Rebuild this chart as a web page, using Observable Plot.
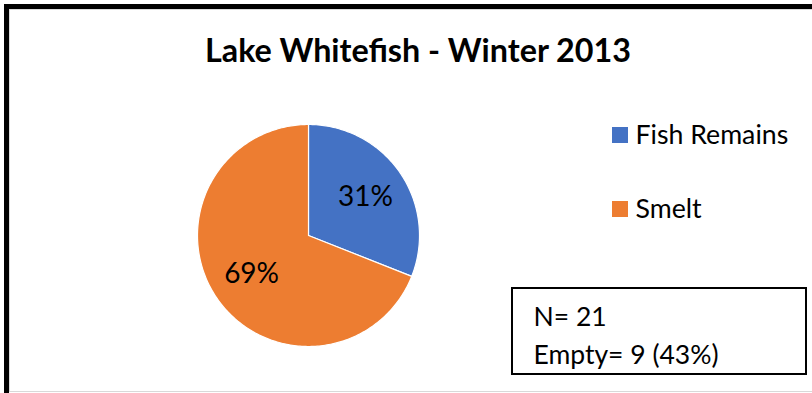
<!DOCTYPE html>
<html><head><meta charset="utf-8">
<script src="https://cdn.jsdelivr.net/npm/d3@7"></script>
<script src="https://cdn.jsdelivr.net/npm/@observablehq/plot@0.6"></script>
<style>
html,body{margin:0;padding:0;background:#fff;width:812px;height:393px;overflow:hidden;position:relative}
#frame{position:absolute;left:4px;top:4px;width:900px;height:500px;border-top:5px solid #000;border-left:5px solid #000;}
#inner{position:absolute;left:9px;top:9px;width:900px;height:381px;border:1px solid #d9d9d9;}
#chart{position:absolute;left:0;top:0}
</style></head><body>
<div id="frame"></div><div id="inner"></div><div id="chart"></div>
<script>
const title = "Lake Whitefish - Winter 2013";
const categories = ["Fish Remains", "Smelt"];
const values = [31, 69];
const colors = ["#4472C4", "#ED7D31"];
const noteLines = ["N= 21", "Empty= 9 (43%)"];

const W = 812, H = 393;
const cx = 308, cy = 235, R = 111;
const FONT = "Lato";

const arcs = d3.pie().sort(null)(values);
const slicePts = arcs.flatMap((a, i) => {
  const n = Math.max(2, Math.ceil((a.endAngle - a.startAngle) / (Math.PI / 180)));
  const pts = [{x: cx, y: cy, cat: categories[i]}];
  for (let k = 0; k <= n; k++) {
    const t = a.startAngle + (a.endAngle - a.startAngle) * k / n;
    pts.push({x: cx + R * Math.sin(t), y: cy - R * Math.cos(t), cat: categories[i]});
  }
  pts.push({x: cx, y: cy, cat: categories[i]});
  return pts;
});
const labelData = arcs.map((a, i) => {
  const m = (a.startAngle + a.endAngle) / 2;
  return {x: cx + 0.62 * R * Math.sin(m), y: cy - 0.62 * R * Math.cos(m), text: values[i] + "%"};
});

const chart = Plot.plot({
  width: W, height: H, margin: 0,
  x: {domain: [0, W], range: [0, W], axis: null},
  y: {domain: [0, H], range: [0, H], axis: null},
  color: {domain: categories, range: colors},
  style: {fontFamily: FONT, background: "transparent", overflow: "visible"},
  marks: [
    Plot.text([title], {x: () => 417.5, y: () => 51, text: d => d, fontWeight: "bold", fontSize: 32.3, fill: "black", fontFamily: FONT}),
    Plot.line(slicePts, {x: "x", y: "y", z: "cat", fill: "cat", stroke: "white", strokeWidth: 1.2, curve: "linear"}),
    Plot.text(labelData, {x: "x", y: "y", text: "text", fontSize: 28, fill: "black", fontFamily: FONT}),
    Plot.rect(categories, {x1: () => 612, x2: () => 628, y1: (d, i) => 127 + i * 74, y2: (d, i) => 143 + i * 74, fill: d => d}),
    Plot.text(categories, {x: () => 635, y: (d, i) => 135 + i * 74, text: d => d, textAnchor: "start", fontSize: 26.7, fill: "black", fontFamily: FONT}),
    Plot.rect([0], {x1: () => 512, x2: () => 806, y1: () => 288, y2: () => 374, fill: "white", stroke: "black", strokeWidth: 2}),
    Plot.text(noteLines, {x: () => 533, y: (d, i) => 317 + i * 38, text: d => d, textAnchor: "start", fontSize: 26.5, fill: "black", fontFamily: FONT})
  ]
});
document.getElementById("chart").appendChild(chart);
</script>
</body></html>
